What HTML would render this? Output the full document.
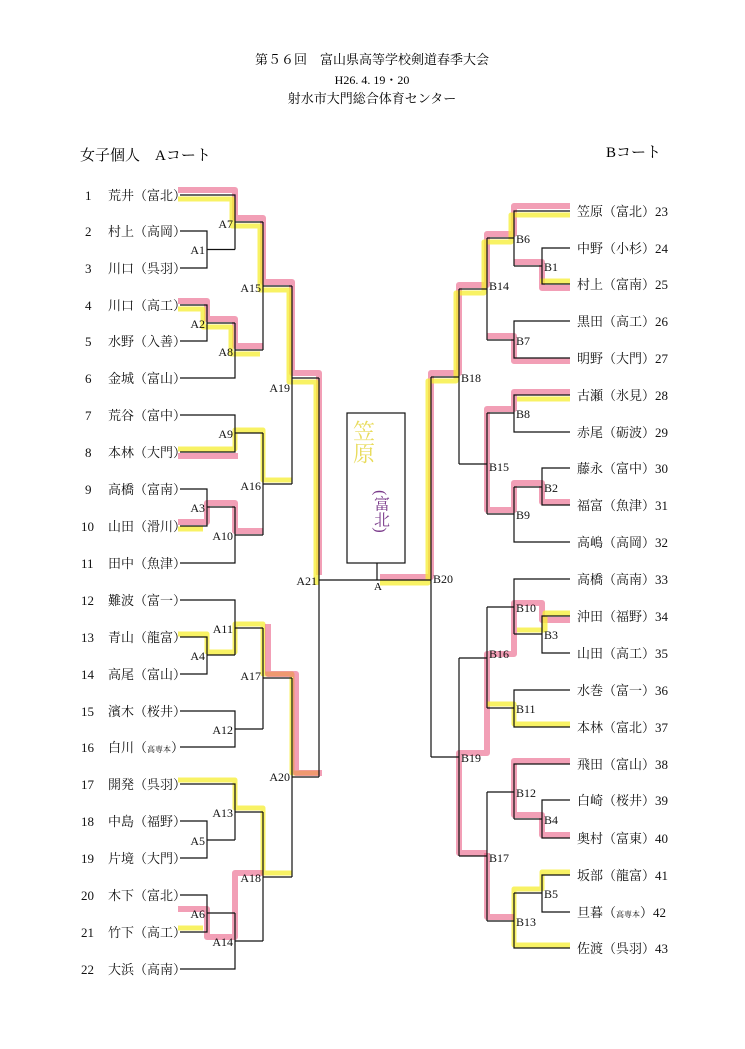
<!DOCTYPE html>
<html><head><meta charset="utf-8"><style>
body{margin:0;background:#fff;}
svg{display:block;font-family:"Liberation Serif","Noto Serif CJK SC","Noto Sans CJK JP",serif;}
.n{font-size:13px;fill:#111;}
.l{font-size:12px;fill:#111;}
.ln{stroke:#111;stroke-width:1.2;fill:none;}
.hp{stroke:#e8507a;stroke-width:6;fill:none;opacity:.55;stroke-linejoin:round}
.hy{stroke:#f6ee30;stroke-width:5;fill:none;opacity:.75;stroke-linejoin:round}
</style></head><body>
<svg width="745" height="1049" viewBox="0 0 745 1049" xmlns="http://www.w3.org/2000/svg">
<rect width="745" height="1049" fill="#fff"/>
<text x="372" y="64" text-anchor="middle" font-size="13">第５６回　富山県高等学校剣道春季大会</text>
<text x="372" y="84" text-anchor="middle" font-size="12">H26. 4. 19・20</text>
<text x="372" y="103" text-anchor="middle" font-size="13">射水市大門総合体育センター</text>
<text x="80" y="160" font-size="15">女子個人　Aコート</text>
<text x="606" y="157" font-size="15">Bコート</text>

<!-- highlights -->
<g>
<polyline class="hp" points="178,190 235,190 235,218 263,218 263,282 292,282 292,373 319,373 319,575"/>
<polyline class="hy" points="178,199 232,199 232,226 260,226 260,290 289,290 289,382 316,382 316,585"/>
<polyline class="hp" points="570,206 514,206 514,234 487,234 487,285 459,285 459,373 431,373 431,577 380,577"/>
<polyline class="hy" points="570,215 511,215 511,242 484,242 484,293 456,293 456,381 428,381 428,583 380,583"/>
<polyline class="hp" points="178,301 207,301 207,319 235,319 235,346 263,346"/>
<polyline class="hy" points="178,309 203,309 203,327 231,327 231,354 260,354"/>
<polyline class="hy" points="178,449 235,449 235,430 263,430 263,480 292,480"/>
<polyline class="hp" points="178,456 238,456"/>
<polyline class="hp" points="178,522 207,522 207,503 235,503 235,531 263,531"/>
<polyline class="hy" points="178,529 203,529"/>
<polyline class="hy" points="178,634 207,634 207,652 235,652 235,624 263,624 263,674 292,674 292,773 319,773"/>
<polyline class="hp" points="268,624 268,674 296,674 296,773 322,773"/>
<polyline class="hy" points="178,780 235,780 235,808 263,808 263,873 292,873"/>
<polyline class="hp" points="178,909 207,909 207,937 235,937 235,873 263,873"/>
<polyline class="hy" points="178,928 203,928"/>
<polyline class="hp" points="570,288 542,288 542,262 514,262"/>
<polyline class="hy" points="570,281 540,281"/>
<polyline class="hp" points="570,361 514,361 514,336 487,336"/>
<polyline class="hp" points="570,392 514,392 514,409 487,409 487,510 514,510 514,483 542,483 542,502 570,502"/>
<polyline class="hy" points="570,399 517,399"/>
<polyline class="hp" points="570,620 542,620 542,603 514,603 514,654 487,654 487,753 459,753 459,853 487,853"/>
<polyline class="hy" points="570,613 545,613 545,630 517,630"/>
<polyline class="hy" points="570,724 514,724 514,704 487,704"/>
<polyline class="hp" points="570,761 514,761 514,815 542,815 542,835 570,835"/>
<polyline class="hy" points="570,872 542,872 542,889 514,889 514,945 570,945"/>
<polyline class="hp" points="514,917 487,917 487,853"/>
</g>

<!-- left names -->
<g class="n">
<text x="85" y="200">1</text><text x="108" y="200">荒井（富北）</text>
<text x="85" y="236">2</text><text x="108" y="236">村上（高岡）</text>
<text x="85" y="273">3</text><text x="108" y="273">川口（呉羽）</text>
<text x="85" y="310">4</text><text x="108" y="310">川口（高工）</text>
<text x="85" y="346">5</text><text x="108" y="346">水野（入善）</text>
<text x="85" y="383">6</text><text x="108" y="383">金城（富山）</text>
<text x="85" y="420">7</text><text x="108" y="420">荒谷（富中）</text>
<text x="85" y="457">8</text><text x="108" y="457">本林（大門）</text>
<text x="85" y="494">9</text><text x="108" y="494">高橋（富南）</text>
<text x="81" y="531">10</text><text x="108" y="531">山田（滑川）</text>
<text x="81" y="568">11</text><text x="108" y="568">田中（魚津）</text>
<text x="81" y="605">12</text><text x="108" y="605">難波（富一）</text>
<text x="81" y="642">13</text><text x="108" y="642">青山（龍富）</text>
<text x="81" y="679">14</text><text x="108" y="679">高尾（富山）</text>
<text x="81" y="716">15</text><text x="108" y="716">濱木（桜井）</text>
<text x="81" y="752">16</text><text x="108" y="752">白川（<tspan font-size="8">高専本</tspan>）</text>
<text x="81" y="789">17</text><text x="108" y="789">開発（呉羽）</text>
<text x="81" y="826">18</text><text x="108" y="826">中島（福野）</text>
<text x="81" y="863">19</text><text x="108" y="863">片境（大門）</text>
<text x="81" y="900">20</text><text x="108" y="900">木下（富北）</text>
<text x="81" y="937">21</text><text x="108" y="937">竹下（高工）</text>
<text x="81" y="974">22</text><text x="108" y="974">大浜（高南）</text>
</g>
<!-- right names -->
<g class="n">
<text x="577" y="216">笠原（富北）23</text>
<text x="577" y="253">中野（小杉）24</text>
<text x="577" y="289">村上（富南）25</text>
<text x="577" y="326">黒田（高工）26</text>
<text x="577" y="363">明野（大門）27</text>
<text x="577" y="400">古瀬（氷見）28</text>
<text x="577" y="437">赤尾（砺波）29</text>
<text x="577" y="473">藤永（富中）30</text>
<text x="577" y="510">福富（魚津）31</text>
<text x="577" y="547">高嶋（高岡）32</text>
<text x="577" y="584">高橋（高南）33</text>
<text x="577" y="621">沖田（福野）34</text>
<text x="577" y="658">山田（高工）35</text>
<text x="577" y="695">水巻（富一）36</text>
<text x="577" y="732">本林（富北）37</text>
<text x="577" y="769">飛田（富山）38</text>
<text x="577" y="805">白崎（桜井）39</text>
<text x="577" y="843">奥村（富東）40</text>
<text x="577" y="880">坂部（龍富）41</text>
<text x="577" y="917">旦暮（<tspan font-size="8">高専本</tspan>）42</text>
<text x="577" y="953">佐渡（呉羽）43</text>
</g>

<!-- left bracket -->
<g class="ln">
<path d="M180,231H207V268H180 M207,249.5H235 M180,195H235V249.5 M235,222H263"/>
<path d="M180,305H207V341H180 M207,323H235 M180,378H235V323 M235,350H263 M263,222V350 M263,286H292"/>
<path d="M180,415H235V452H180 M235,433H263 M180,489H207V526H180 M207,507H235 M180,563H235V507 M235,535H263 M263,433V535 M263,484H292 M292,286V484 M292,378H319"/>
<path d="M180,637H207V674H180 M207,655H235 M180,600H235V655 M235,628H263 M180,711H235V747H180 M235,729H263 M263,628V729 M263,678H292"/>
<path d="M180,821H207V858H180 M207,840H235 M180,784H235V840 M235,812H263 M180,895H207V932H180 M207,913H235 M180,969H235V913 M235,941H263 M263,812V941 M263,877H292 M292,678V877 M292,777H319"/>
<path d="M319,378V777 M319,580H431 M377,563V580"/>
</g>
<rect x="347" y="413" width="58" height="150" fill="none" stroke="#111" stroke-width="1.2"/>
<text x="378" y="590" font-size="11" text-anchor="middle">A</text>
<text x="363" y="420" font-size="22" fill="#e6d84a" style="writing-mode:vertical-rl" opacity=".9">笠原</text>
<text x="380" y="490" font-size="16" fill="#7a3a8a" style="writing-mode:vertical-rl">(富北)</text>

<!-- right bracket -->
<g class="ln">
<path d="M570,248H542V284H570 M542,266H514 M570,211H514V266 M514,238H487 M570,321H514V358H570 M514,340H487 M487,238V340 M487,289H459"/>
<path d="M570,395H514V432H570 M514,413H487 M570,468H542V505H570 M542,487H514 M570,542H514V487 M514,514H487 M487,413V514 M487,464H459 M459,289V464 M459,377H431"/>
<path d="M570,616H542V653H570 M542,634H514 M570,579H514V634 M514,607H487 M570,690H514V727H570 M514,708H487 M487,607V708 M487,658H459"/>
<path d="M570,800H542V838H570 M542,819H514 M570,764H514V819 M514,792H487 M570,875H542V912H570 M542,893H514 M570,948H514V893 M514,921H487 M487,792V921 M487,856H459 M459,658V856 M459,757H431 M431,377V757"/>
</g>

<!-- labels -->
<g class="l" text-anchor="end">
<text x="205" y="254">A1</text><text x="233" y="228">A7</text>
<text x="205" y="328">A2</text><text x="233" y="356">A8</text>
<text x="261" y="292">A15</text>
<text x="233" y="438">A9</text><text x="205" y="512">A3</text><text x="233" y="540">A10</text>
<text x="261" y="490">A16</text><text x="290" y="392">A19</text>
<text x="233" y="633">A11</text><text x="205" y="660">A4</text><text x="233" y="734">A12</text>
<text x="261" y="680">A17</text>
<text x="233" y="817">A13</text><text x="205" y="845">A5</text><text x="205" y="918">A6</text><text x="233" y="946">A14</text>
<text x="261" y="882">A18</text><text x="290" y="781">A20</text><text x="317" y="585">A21</text>
</g>
<g class="l">
<text x="544" y="271">B1</text><text x="516" y="243">B6</text><text x="516" y="345">B7</text><text x="489" y="290">B14</text>
<text x="516" y="418">B8</text><text x="544" y="492">B2</text><text x="516" y="519">B9</text><text x="489" y="471">B15</text>
<text x="461" y="382">B18</text><text x="433" y="583">B20</text>
<text x="516" y="612">B10</text><text x="544" y="639">B3</text><text x="516" y="713">B11</text><text x="489" y="658">B16</text>
<text x="516" y="797">B12</text><text x="544" y="824">B4</text><text x="544" y="898">B5</text><text x="516" y="926">B13</text>
<text x="489" y="862">B17</text><text x="461" y="762">B19</text>
</g>
</svg>
</body></html>
